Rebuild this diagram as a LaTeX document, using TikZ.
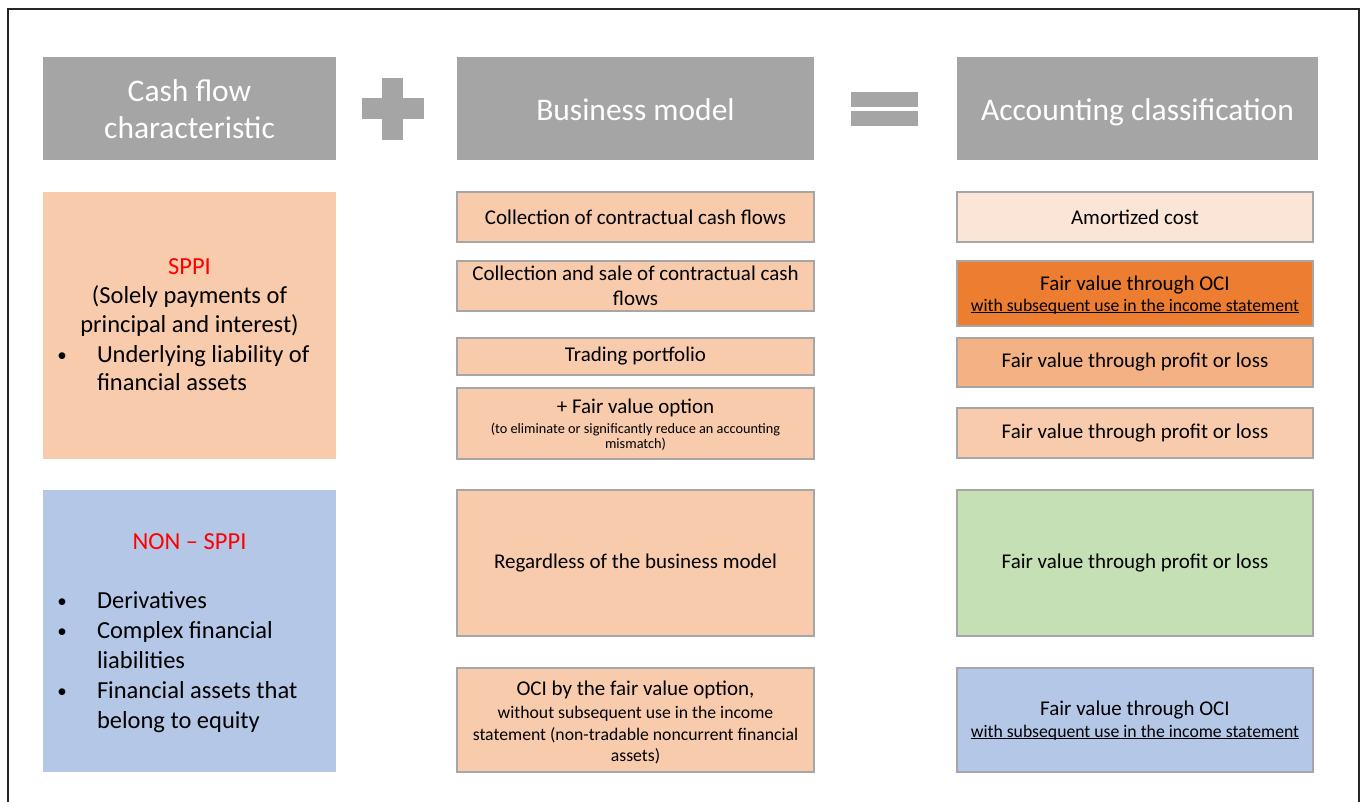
\documentclass[tikz,border=0pt]{standalone}
\usepackage{fontspec}
\setmainfont{Carlito}
\definecolor{hdr}{HTML}{A5A5A5}
\definecolor{edge}{HTML}{A6A6A6}
\definecolor{peach}{HTML}{F8CBAD}
\definecolor{palepeach}{HTML}{FBE5D6}
\definecolor{deeporange}{HTML}{ED7D31}
\definecolor{midorange}{HTML}{F4B183}
\definecolor{paleblue}{HTML}{B4C7E7}
\definecolor{palegreen}{HTML}{C5E0B4}
\definecolor{framecol}{HTML}{262626}
\newcommand\ulsmash[1]{\underline{\smash{#1}}}
\begin{document}
\begin{tikzpicture}[x=1pt,y=-1pt,
  every node/.style={inner sep=0pt, outer sep=0pt},
  hdrbox/.style={fill=hdr},
  hdrtext/.style={text=white, align=center, font=\fontsize{31.5}{37}\selectfont},
  catbox/.style={draw=none},
  cell/.style={draw=edge, line width=1.6pt, align=center, font=\fontsize{21}{24.5}\selectfont},
  cellfont/.style={font=\fontsize{21}{24.5}\selectfont},
  big/.style={font=\fontsize{24.5}{29}\selectfont},
  dot/.style={font=\fontsize{19}{29}\selectfont},
  redtitle/.style={text=red, font=\fontsize{24.5}{29}\selectfont},
  small/.style={font=\fontsize{14.3}{15}\selectfont},
  mid/.style={font=\fontsize{17.7}{21.5}\selectfont},
  sym/.style={fill=hdr}]
\useasboundingbox (0,0) rectangle (1367,801);
\fill[white] (0,0) rectangle (1367,801);
% outer frame, open at the bottom
\draw[framecol, line width=2pt] (8,815) -- (8,9) -- (1359,9) -- (1359,815);

% column headers
\node[hdrbox, minimum width=293, minimum height=103] (hcash) at (189.5,108.5) {};
\node[hdrtext, anchor=base] (hcasht1) at (189.5,101) {Cash flow};
\node[hdrtext, anchor=base] (hcasht2) at (189.5,138) {characteristic};
\node[hdrbox, minimum width=357, minimum height=103] (hbiz) at (635.5,108.5) {};
\node[hdrtext, anchor=base] (hbizt) at (635.5,120) {Business model};
\node[hdrbox, minimum width=361, minimum height=103] (hacc) at (1137.5,108.5) {};
\node[hdrtext, anchor=base] (hacct) at (1137.5,120) {Accounting classification};

% plus and equals signs
\fill[sym] (362,98) rectangle (424,119);
\fill[sym] (382,78) rectangle (403,140);
\fill[sym] (851,92) rectangle (918,107);
\fill[sym] (851,111) rectangle (918,126);

% cash flow characteristic: SPPI
\node[catbox, fill=peach, minimum width=293, minimum height=267] (sppi) at (189.5,325.5) {};
\node[redtitle, anchor=base] (sppit) at (189.5,274) {SPPI};
\node[big, anchor=base] (sppi1) at (189.5,303) {(Solely payments of};
\node[big, anchor=base] (sppi2) at (189.5,332) {principal and interest)};
\node[dot, anchor=base] (sppib1) at (62,361) {\textbullet};
\node[big, anchor=base west] (sppil1) at (97,362) {Underlying liability of};
\node[big, anchor=base west] (sppil2) at (97,390) {financial assets};

% cash flow characteristic: NON-SPPI
\node[catbox, fill=paleblue, minimum width=293, minimum height=282] (nsppi) at (189.5,631) {};
\node[redtitle, anchor=base] (nsppit) at (189.5,549) {NON – SPPI};
\node[dot, anchor=base] (nb1) at (62,607) {\textbullet};
\node[big, anchor=base west] (nl1) at (97,608) {Derivatives};
\node[dot, anchor=base] (nb2) at (62,637) {\textbullet};
\node[big, anchor=base west] (nl2) at (97,638) {Complex financial};
\node[big, anchor=base west] (nl3) at (97,668) {liabilities};
\node[dot, anchor=base] (nb3) at (62,697) {\textbullet};
\node[big, anchor=base west] (nl4) at (97,698) {Financial assets that};
\node[big, anchor=base west] (nl5) at (97,728) {belong to equity};

% business model column
\node[cell, fill=peach, minimum width=357, minimum height=50] (m1) at (635.5,217) {Collection of contractual cash flows};
\node[cell, fill=peach, minimum width=357, minimum height=50] (m2) at (635.5,286) {Collection and sale of contractual cash\\flows};
\node[cell, fill=peach, minimum width=357, minimum height=37] (m3) at (635.5,356.5) {Trading portfolio};
\node[cell, fill=peach, minimum width=357, minimum height=71] (m4) at (635.5,423.5) {};
\node[cellfont, anchor=base] (m4a) at (635.5,413) {+ Fair value option};
\node[small, anchor=base] (m4b) at (635.5,433) {(to eliminate or significantly reduce an accounting};
\node[small, anchor=base] (m4c) at (635.5,448) {mismatch)};
\node[cell, fill=peach, minimum width=357, minimum height=146] (m5) at (635.5,563) {Regardless of the business model};
\node[cell, fill=peach, minimum width=357, minimum height=104] (m6) at (635.5,720) {};
\node[cellfont, anchor=base] (m6a) at (635.5,695) {OCI by the fair value option,};
\node[mid, anchor=base] (m6b) at (635.5,718) {without subsequent use in the income};
\node[mid, anchor=base] (m6c) at (635.5,740) {statement (non-tradable noncurrent financial};
\node[mid, anchor=base] (m6d) at (635.5,761) {assets)};

% accounting classification column
\node[cell, fill=palepeach, minimum width=356, minimum height=50] (r1) at (1135,217) {Amortized cost};
\node[cell, fill=deeporange, minimum width=356, minimum height=65] (r2) at (1135,293.5) {};
\node[cellfont, anchor=base] (r2a) at (1135,290) {Fair value through OCI};
\node[mid, anchor=base] (r2b) at (1135,311) {\ulsmash{with subsequent use in the income statement}};
\node[cell, fill=midorange, minimum width=356, minimum height=49] (r3) at (1135,362.5) {Fair value through profit or loss};
\node[cell, fill=peach, minimum width=356, minimum height=50] (r4) at (1135,433) {Fair value through profit or loss};
\node[cell, fill=palegreen, minimum width=356, minimum height=146] (r5) at (1135,563) {Fair value through profit or loss};
\node[cell, fill=paleblue, minimum width=356, minimum height=104] (r6) at (1135,720) {};
\node[cellfont, anchor=base] (r6a) at (1135,715) {Fair value through OCI};
\node[mid, anchor=base] (r6b) at (1135,737) {\ulsmash{with subsequent use in the income statement}};
\end{tikzpicture}
\end{document}
